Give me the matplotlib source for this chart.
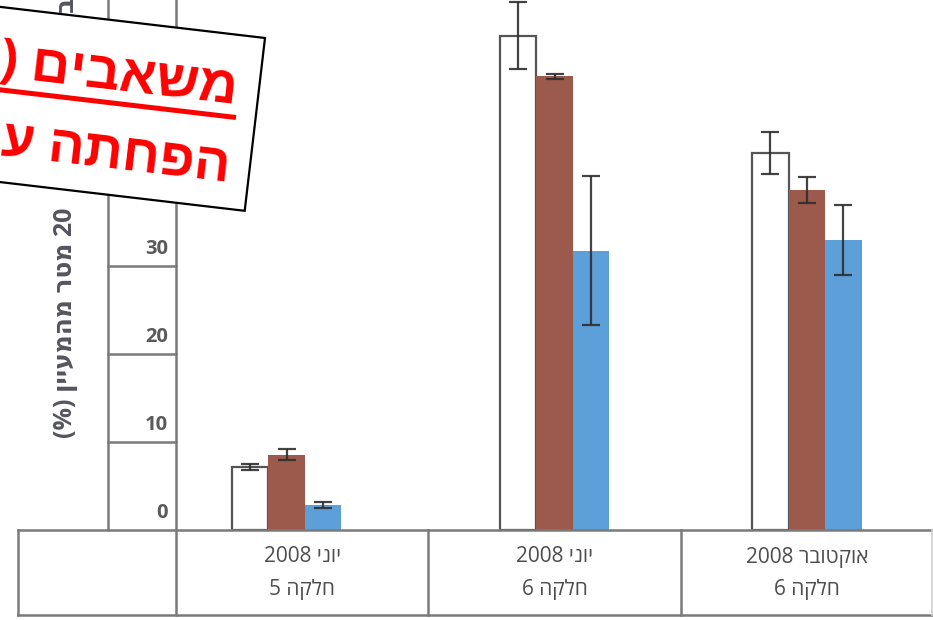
import matplotlib
matplotlib.use("Agg")
import matplotlib.pyplot as plt
import matplotlib.transforms as mtransforms
from matplotlib.patches import Polygon
from matplotlib.lines import Line2D
import numpy as np

# ---------------- data ----------------
cat_line1 = ["יוני 2008", "יוני 2008", "אוקטובר 2008"]
cat_line2 = ["חלקה 5", "חלקה 6", "חלקה 6"]
white_vals = [7.1, 56.1, 42.8]
white_err = [0.35, 3.8, 2.4]
brown_vals = [8.5, 51.5, 38.6]
brown_err = [0.65, 0.3, 1.5]
blue_vals = [2.8, 31.7, 32.9]
blue_err = [0.35, 8.5, 4.0]
yticks = [0, 10, 20, 30, 40, 50]
ylabel = "20 מטר מהמעיין (%)"
stamp_line1 = "משאבים ("
stamp_line2 = "הפחתה ע"

HEB = set(chr(c) for c in range(0x0590, 0x0600))
MIRROR = {"(": ")", ")": "(", "[": "]", "]": "["}


def visual(s):
    """Very small bidi: convert logical RTL Hebrew text to visual LTR order."""
    out = []
    for w in s.split(" ")[::-1]:
        if any(ch in HEB for ch in w) or all(not ch.isalnum() for ch in w):
            w = "".join(MIRROR.get(ch, ch) for ch in w[::-1])
        out.append(w)
    return " ".join(out)


W, H = 933, 620
fig = plt.figure(figsize=(W / 100, H / 100), dpi=100)


def fx(x):
    return x / W


def fy(y):
    return 1 - y / H


# main axes: x from 176px to 933px, y from 529.5px (value 0) to top
ax = fig.add_axes([fx(176), fy(529.5), fx(933) - fx(176), fy(0) - fy(529.5)])
ax.set_xlim(-0.5, 2.5)
ax.set_ylim(0, 529.5 / 8.8)
ax.axis("off")

col_white = "white"
col_brown = "#9b5a4b"
col_blue = "#5c9fd9"
bw = 0.145
group_shift = np.array([-0.062, 0.0, 0.0])
x = np.arange(3) + group_shift

ekw = dict(ecolor="#2e2e2e", elinewidth=1.6, capsize=6.5, capthick=1.6, alpha=0.9)
ax.bar(x - bw, white_vals, bw, yerr=white_err, color=col_white,
       edgecolor="#555555", linewidth=1.6, error_kw=ekw, zorder=2)
ax.bar(x, brown_vals, bw, yerr=brown_err, color=col_brown,
       linewidth=0, error_kw=ekw, zorder=2)
ax.bar(x + bw, blue_vals, bw, yerr=blue_err, color=col_blue,
       linewidth=0, error_kw=ekw, zorder=2)

# ---------------- table / frame lines ----------------
lc = "#7a7a7a"
lw = 1.8


def fline(x0, y0, x1, y1, **kw):
    fig.add_artist(Line2D([fx(x0), fx(x1)], [fy(y0), fy(y1)], color=kw.get("color", lc),
                          lw=kw.get("lw", lw), transform=fig.transFigure, zorder=3))


fline(18, 529.5, 933, 529.5)
fline(18, 615, 933, 615)
fline(18, 529.5, 18, 615)
fline(108, 0, 108, 529.5)
fline(176, 0, 176, 615)
fline(931.5, 529.5, 931.5, 615, color="#cfcfcf", lw=1.2)

# group cell dividers (between categories)
tb = mtransforms.blended_transform_factory(ax.transData, fig.transFigure)
for xd in [0.5, 1.5]:
    ax.plot([xd, xd], [fy(529.5), fy(615)], color=lc, lw=lw, transform=tb,
            clip_on=False, zorder=3)

# y ticks inside the axis column
ty = mtransforms.blended_transform_factory(fig.transFigure, ax.transData)
txt_trans = mtransforms.offset_copy(ty, fig=fig, x=0, y=16, units="dots")
font_lbl = ["Open Sans", "DejaVu Sans"]
for v in yticks:
    if v > 0:
        ax.plot([fx(108), fx(176)], [v, v], color=lc, lw=lw, transform=ty,
                clip_on=False, zorder=3)
    ax.text(fx(168), v, str(v), transform=txt_trans, ha="right", va="center",
            fontsize=14.5, fontweight="bold", color="#5a5a5a", family=font_lbl)

# category labels
for i in range(3):
    ax.text(i, fy(557), visual(cat_line1[i]), transform=tb, ha="center", va="center",
            fontsize=15, color="#4d4d4d", family=font_lbl)
    ax.text(i, fy(590), visual(cat_line2[i]), transform=tb, ha="center", va="center",
            fontsize=15, color="#4d4d4d", family=font_lbl)

# y label (rotated)
fig.text(fx(66), fy(438), visual(ylabel), rotation=90, ha="center", va="bottom",
         fontsize=18, fontweight="bold", color="#555560", family=font_lbl, zorder=4)
fig.text(fx(66), fy(12), "ב", rotation=90, ha="center", va="bottom",
         fontsize=18, fontweight="bold", color="#555560", family=font_lbl, zorder=4)

# ---------------- stamp ----------------
th = np.deg2rad(6.7)
u = np.array([np.cos(th), np.sin(th)])
vv = np.array([-np.sin(th), np.cos(th)])
TR = np.array([265.0, 38.0])
Hs = 174.0
L = 700.0
corners = [TR, TR + Hs * vv, TR + Hs * vv - L * u, TR - L * u]
poly = Polygon([(fx(p[0]), fy(p[1])) for p in corners], closed=True,
               facecolor="white", edgecolor="black", lw=1.6,
               transform=fig.transFigure, zorder=10)
fig.add_artist(poly)

stamp_font = ["Open Sans", "Liberation Sans", "DejaVu Sans"]
fig.text(fx(236), fy(104), visual(stamp_line1), rotation=-6.7, rotation_mode="anchor",
         ha="right", va="baseline", fontsize=38.5, fontweight="bold", color="#ff0000",
         family=stamp_font, zorder=11)
fig.text(fx(228), fy(181), visual(stamp_line2), rotation=-6.7, rotation_mode="anchor",
         ha="right", va="baseline", fontsize=38.5, fontweight="bold", color="#ff0000",
         family=stamp_font, zorder=11)
U0 = np.array([236.0, 117.5])
U1 = U0 - L * u
fig.add_artist(Line2D([fx(U0[0]), fx(U1[0])], [fy(U0[1]), fy(U1[1])], color="#ff0000",
                      lw=3.6, transform=fig.transFigure, zorder=11, solid_capstyle="butt"))

fig.savefig("out.png", dpi=100)
